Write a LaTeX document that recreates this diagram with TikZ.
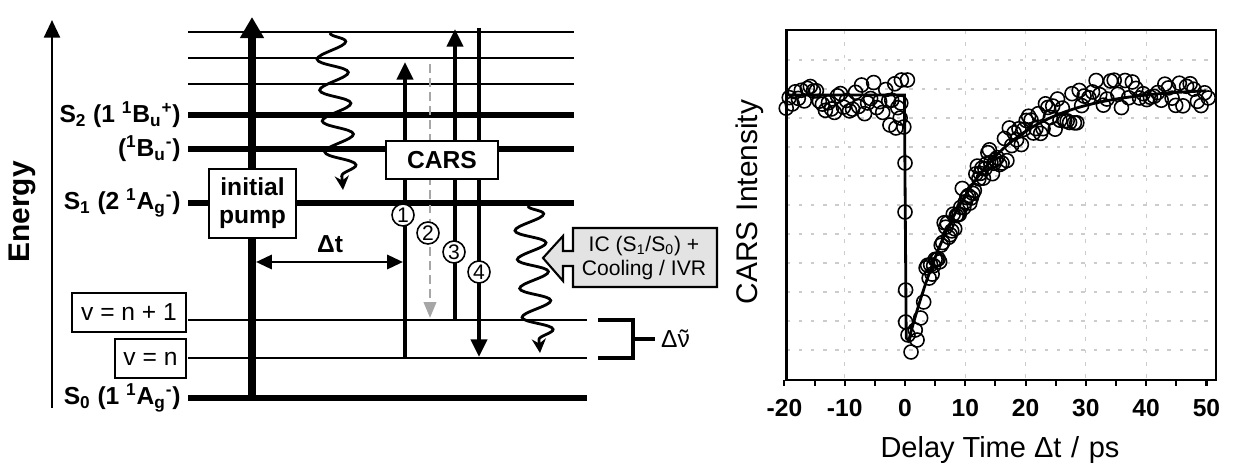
\documentclass[tikz,border=0pt]{standalone}
\usepackage{fontspec}
\setmainfont{Liberation Sans}
\usetikzlibrary{arrows.meta, positioning, calc, decorations.pathmorphing}

\begin{document}
\begin{tikzpicture}[
    x=0.02cm, y=-0.02cm,
    every node/.style={font=\fontsize{12}{14}\selectfont},
    lvlthin/.style={line width=1.5pt},
    lvlthick/.style={line width=3.5pt},
    box/.style={draw, fill=white, line width=1pt, inner sep=1pt, align=center},
    lbl/.style={anchor=east, inner sep=0pt, font=\bfseries\fontsize{14}{16}\selectfont},
    arr/.style={line width=2.4pt, -{Triangle[length=10pt,width=9pt]}},
    pumparr/.style={line width=4pt, -{Triangle[length=12pt,width=13pt]}},
    dasharr/.style={line width=1.4pt, gray!70, dash pattern=on 5pt off 3pt,
                    -{Triangle[length=9pt,width=7pt]}},
    dtarr/.style={line width=1.6pt, {Triangle[length=9pt,width=8pt]}-{Triangle[length=9pt,width=8pt]}},
    wave/.style={decorate, decoration={snake, amplitude=0.3cm, segment length=0.62cm,
                 post length=0.25cm}, line width=1.6pt, -{Stealth[length=8pt,width=8pt]}},
    num/.style={circle, draw, fill=white, line width=0.9pt, minimum size=0.44cm,
                inner sep=0pt, font=\fontsize{12}{14}\selectfont},
    gridln/.style={gray!40, line width=0.6pt, dash pattern=on 2pt off 5pt},
    mk/.style={line width=0.9pt},
    fitln/.style={line width=1.6pt}
]
    \useasboundingbox (0,0) rectangle (1255,469);

    % energy axis
    \draw[line width=1.5pt, -{Triangle[length=10pt,width=9pt]}] (52,408) -- (52,20);
    \node[rotate=90, font=\bfseries\fontsize{17}{19}\selectfont] (energy) at (22,212) {Energy};

    % levels
    \foreach \y in {32,58,84}
        \draw[lvlthin] (188,\y) -- (574,\y);
    \foreach \y in {115,149,203}
        \draw[lvlthick] (188,\y) -- (574,\y);
    \foreach \y in {320,358}
        \draw[lvlthin] (188,\y) -- (587,\y);
    \draw[lvlthick] (188,398) -- (587,398);

    \node[lbl] (ls2) at (181,115) {S\textsubscript{2} (1 \textsuperscript{1}B\textsubscript{u}\textsuperscript{+})};
    \node[lbl] (lbu) at (181,149) {(\textsuperscript{1}B\textsubscript{u}\textsuperscript{-})};
    \node[lbl] (ls1) at (181,203) {S\textsubscript{1} (2 \textsuperscript{1}A\textsubscript{g}\textsuperscript{-})};
    \node[lbl] (ls0) at (181,398) {S\textsubscript{0} (1 \textsuperscript{1}A\textsubscript{g}\textsuperscript{-})};

    \node[box, minimum width=2.28cm, minimum height=0.78cm,
          font=\fontsize{14}{16}\selectfont] (vn1) at (129,312.5) {v = n + 1};
    \node[box, minimum width=1.42cm, minimum height=0.78cm,
          font=\fontsize{14}{16}\selectfont] (vn)  at (150.5,358.5) {v = n};

    % pump
    \coordinate (p0) at (252,398);
    \coordinate (p1) at (252,17);
    \draw[pumparr] (p0) -- (p1);
    \node[box, minimum width=1.74cm, minimum height=1.38cm,
          font=\bfseries\fontsize{14}{16}\selectfont] (pump) at (252.5,203.5) {initial\\pump};

    % relaxation in S2
    \coordinate (w1a) at (330,33);
    \coordinate (w1b) at (343,190);
    \draw[wave] (w1a) -- (w1b);

    % CARS
    \coordinate (a1)  at (405,358);
    \coordinate (a1t) at (405,62);
    \coordinate (a2)  at (430,64);
    \coordinate (a2t) at (430,318);
    \coordinate (a3)  at (455,320);
    \coordinate (a3t) at (455,29);
    \coordinate (a4)  at (479,28);
    \coordinate (a4t) at (479,357);
    \draw[arr] (a1) -- (a1t);
    \draw[dasharr] (a2) -- (a2t);
    \draw[arr] (a3) -- (a3t);
    \draw[arr] (a4) -- (a4t);
    \node[box, minimum width=2.24cm, minimum height=0.76cm,
          font=\bfseries\fontsize{14}{16}\selectfont] (cars) at (442,160) {CARS};

    \node[num] (n1) at (403,215) {1};
    \node[num] (n2) at (428,233) {2};
    \node[num] (n3) at (454,252) {3};
    \node[num] (n4) at (479,272) {4};

    % delay
    \coordinate (dta) at (256,262);
    \coordinate (dtb) at (403,262);
    \draw[dtarr] (dta) -- (dtb);
    \node[font=\bfseries\fontsize{14}{16}\selectfont] (dt) at (330,244) {Δt};

    % IC / cooling
    \coordinate (w2a) at (528,206);
    \coordinate (w2b) at (540,353);
    \draw[wave, decoration={segment length=0.58cm}] (w2a) -- (w2b);
    \draw[line width=1.2pt, fill=gray!22]
        (717,228) -- (573,228) -- (573,251) -- (563,251) -- (563,236) -- (543,258)
        -- (563,281) -- (563,266) -- (573,266) -- (573,287) -- (717,287) -- cycle;
    \node[align=center, font=\fontsize{12}{14}\selectfont] (ic) at (644,258)
        {IC (S\textsubscript{1}/S\textsubscript{0}) +\\Cooling / IVR};

    % bracket
    \draw[line width=1.8pt] (598,320) -- (633,320) -- (633,358) -- (598,358);
    \node[anchor=west, font=\fontsize{14}{16}\selectfont] (dnu) at (655,339)
        {Δ\rlap{\hspace{0.09em}˜}ν};
    \draw[line width=1.8pt] (633,339) -- (dnu.west);

    % kinetics
    \node[rotate=90, font=\fontsize{17}{19}\selectfont] (ylab) at (750,202) {CARS\,\,Intensity};
    \node[font=\fontsize{16.5}{18}\selectfont] (xlab) at (1000,450) {Delay Time Δt\,\,/\,\,ps};
    \begin{scope}[shift={(905,0)}, x=0.1206cm]
        \foreach \y in {60,89,...,350}
            \draw[gridln] (-19.7,\y) -- (51.6,\y);
        \foreach \t in {-10,10,20,30,40}
            \draw[gridln] (\t,30) -- (\t,380);
        \draw[line width=1.5pt] (-19.7,30) rectangle (51.6,380);
        \foreach \t in {-20,-15,...,50}
            \draw[line width=1.2pt] (\t,380) -- (\t,386);
        \foreach \t in {-20,-10,...,50}
            \node[font=\bfseries\fontsize{14}{16}\selectfont] (tk\t) at (\t,408) {\t};

        \draw[fitln] (-19.7,95) -- (-0.1,95) -- (0.2,338)
            -- plot[domain=0.6:50, samples=70] (\x, {88+255*exp(-(\x-0.5)/11)});

        \pgfmathsetseed{11}
        \foreach \t in {-19.7,-19.2,...,-0.3} {
            \pgfmathsetmacro\yy{97+17*rand}
            \draw[mk] (\t,\yy) circle[radius=0.14cm];
        }
        \foreach \t/\y in {-2.5/125,-1.5/128,-0.8/118,-0.2/127,0/163,0/212,0.1/290,0.1/322,
                           0.5/335,1/352,1.7/330,2/340,2.6/318,3.1/302,0.4/80,-0.6/80} {
            \draw[mk] (\t,\y) circle[radius=0.14cm];
        }
        \foreach \t in {3.5,3.75,...,15} {
            \pgfmathsetmacro\yy{88+255*exp(-(\t-0.5)/11)+17*rand}
            \draw[mk] (\t,\yy) circle[radius=0.14cm];
        }
        \foreach \t in {15.3,15.7,...,30} {
            \pgfmathsetmacro\yy{88+255*exp(-(\t-0.5)/11)+17*rand}
            \draw[mk] (\t,\yy) circle[radius=0.14cm];
        }
        \foreach \t in {30.5,31.1,...,50.8} {
            \pgfmathsetmacro\yy{94+14*rand}
            \draw[mk] (\t,\yy) circle[radius=0.14cm];
        }
    \end{scope}
\end{tikzpicture}
\end{document}
